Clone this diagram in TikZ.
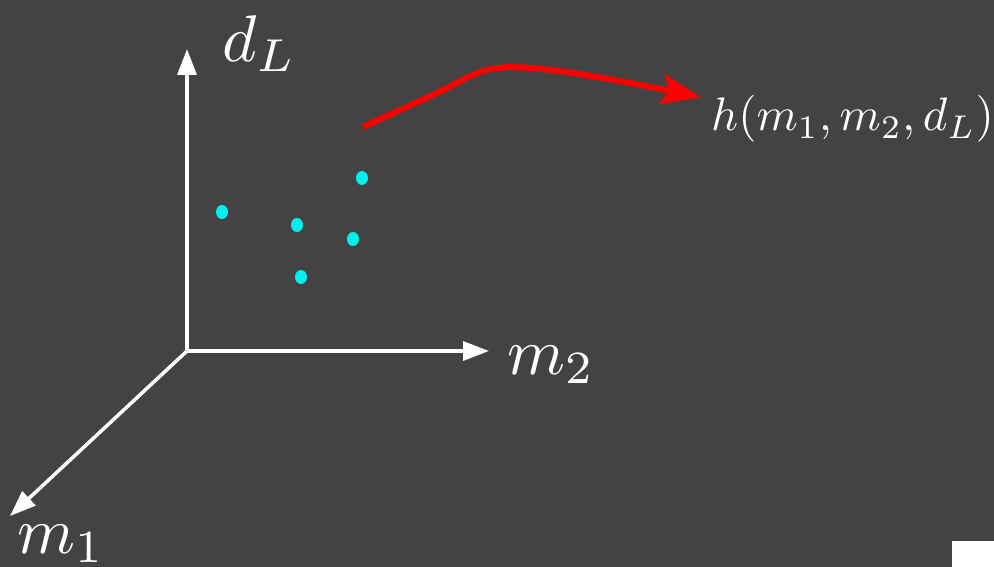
\documentclass[tikz,border=0pt]{standalone}
\usepackage{graphicx}
\usetikzlibrary{arrows.meta}
\definecolor{bgc}{RGB}{67,67,67}
\definecolor{dotc}{RGB}{0,240,240}
\newcommand{\bigmath}[1]{\scalebox{6.6}{$#1$}}
\newcommand{\smallmath}[1]{\scalebox{4.7}{$#1$}}
\begin{document}
\begin{tikzpicture}[x=1pt,y=-1pt,
  axis/.style={draw=white,line width=3.5pt,-{Triangle[length=26pt,width=19pt]}},
  biglabel/.style={text=white,inner sep=0pt,anchor=base west},
  dotp/.style={fill=dotc,draw=none},
  redarrow/.style={draw=red,line width=6pt,-{Stealth[length=40pt,width=30pt,inset=8pt]}}]
\useasboundingbox (0,0) rectangle (994,567);
\fill[bgc] (0,0) rectangle (994,567);
\coordinate (O) at (187,351);
\coordinate (Ytip) at (187,49);
\coordinate (Xtip) at (489,351);
\coordinate (Ztip) at (10,516);
\draw[axis] (O) -- (Ytip);
\draw[axis] (O) -- (Xtip);
\draw[axis] (O) -- (Ztip);
\node[biglabel] (dl) at (222,62) {\bigmath{d_L}};
\node[biglabel] (m2) at (507,374) {\bigmath{m_2}};
\node[biglabel] (m1) at (17,553) {\bigmath{m_1}};
\node[biglabel] (h) at (711,131) {\smallmath{h(m_1,m_2,d_L)}};
\fill[dotp] (222,212) ellipse (6pt and 7pt);
\fill[dotp] (297,225) ellipse (6pt and 7pt);
\fill[dotp] (353,239) ellipse (6pt and 7pt);
\fill[dotp] (362,178) ellipse (6pt and 7pt);
\fill[dotp] (301,277) ellipse (6pt and 7pt);
\coordinate (rs) at (363,127);
\coordinate (rk) at (437,93);
\coordinate (re) at (701,97);
\draw[redarrow] (rs) -- (rk) .. controls (468,78) and (480,67) .. (512,67) .. controls (560,68) and (640,85) .. (re);
\fill[white] (952,541) rectangle (994,567);
\end{tikzpicture}
\end{document}
